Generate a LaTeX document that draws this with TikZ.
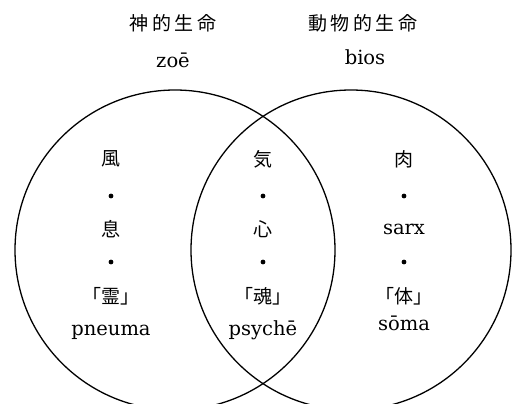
\documentclass[tikz,border=0pt]{standalone}
\usepackage{fontspec}
\setmainfont{DejaVu Serif}
\newfontfamily\cjk{Noto Sans CJK JP}
\begin{document}
\begin{tikzpicture}[x=1pt,y=-1pt,
  ring/.style={draw=black,line width=1.3pt},
  jp/.style={font=\cjk\fontsize{19}{19}\selectfont,inner sep=0pt},
  lat/.style={font=\fontsize{19.5}{19.5}\selectfont,inner sep=0pt,anchor=base},
  sep/.style={circle,fill=black,inner sep=0pt,minimum size=4.8pt}]
\useasboundingbox (0,0) rectangle (514,404);
\clip (0,0) rectangle (514,404);
\fill[white] (0,0) rectangle (514,404);
% circles
\node[ring,circle,minimum size=320pt,inner sep=0pt] (L) at (175,250) {};
\node[ring,circle,minimum size=320pt,inner sep=0pt] (R) at (351,250) {};
% headings
\node[jp] (hl) at (173,23) {神\hspace{3.5pt}的\hspace{3.5pt}生\hspace{3.5pt}命};
\node[lat] (zoe) at (173,67) {zoē};
\node[jp] (hr) at (363,23) {動\hspace{3.5pt}物\hspace{3.5pt}的\hspace{3.5pt}生\hspace{3.5pt}命};
\node[lat] (bios) at (365,64) {bios};
% left column
\node[jp] (a1) at (111,159) {風};
\node[sep] (ad1) at (111,196) {};
\node[jp] (a2) at (111,229) {息};
\node[sep] (ad2) at (111,262) {};
\node[jp] (a3) at (111,296) {「霊」};
\node[lat] (a4) at (111,335) {pneuma};
% middle column
\node[jp] (b1) at (263,159) {気};
\node[sep] (bd1) at (263,196) {};
\node[jp] (b2) at (263,229) {心};
\node[sep] (bd2) at (263,262) {};
\node[jp] (b3) at (263,296) {「魂」};
\node[lat] (b4) at (263,335) {psychē};
% right column
\node[jp] (c1) at (404,159) {肉};
\node[sep] (cd1) at (404,196) {};
\node[lat] (c2) at (404,234) {sarx};
\node[sep] (cd2) at (404,262) {};
\node[jp] (c3) at (404,296) {「体」};
\node[lat] (c4) at (404,330) {sōma};
\end{tikzpicture}
\end{document}
